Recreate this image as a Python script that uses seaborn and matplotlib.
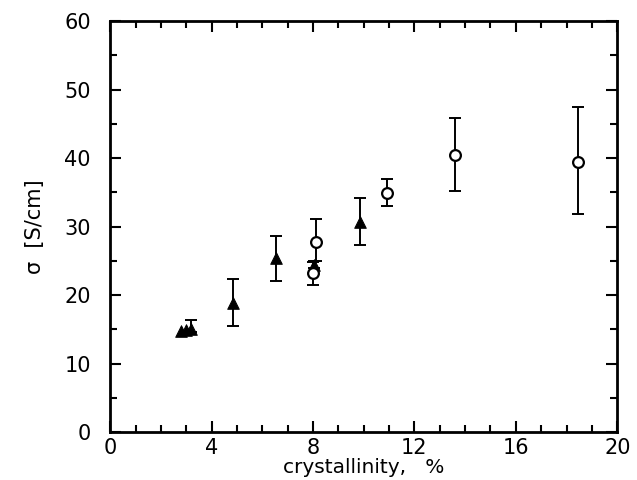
import pandas as pd
import matplotlib.pyplot as plt
import seaborn as sns
from matplotlib.ticker import MultipleLocator

# filled triangles
tri_x = [2.8, 3.0, 3.2, 4.85, 6.55, 8.05, 9.85]
tri_y = [14.7, 14.9, 15.0, 18.9, 25.4, 24.4, 30.6]
tri_lo = [14.7, 14.9, 14.6, 15.5, 22.0, 24.0, 27.3]
tri_hi = [14.7, 14.9, 16.4, 22.4, 28.6, 24.9, 34.1]

# open circles
circ_x = [8.1, 8.0, 10.9, 13.6, 18.45]
circ_y = [27.8, 23.2, 34.9, 40.4, 39.5]
circ_lo = [25.0, 21.5, 33.0, 35.2, 31.9]
circ_hi = [31.1, 24.8, 37.0, 45.9, 47.4]

df = pd.DataFrame({
    "x": tri_x + circ_x,
    "y": tri_y + circ_y,
    "lo": tri_lo + circ_lo,
    "hi": tri_hi + circ_hi,
    "kind": ["tri"] * len(tri_x) + ["circ"] * len(circ_x),
})

sns.set_style("ticks")
plt.rcParams["font.family"] = ["DejaVu Sans"]
plt.rcParams["text.color"] = "black"
plt.rcParams["axes.labelcolor"] = "black"
plt.rcParams["xtick.color"] = "black"
plt.rcParams["ytick.color"] = "black"

fig = plt.figure(figsize=(6.37, 4.8), dpi=100)
ax = fig.add_axes([0.173, 0.1, 0.796, 0.856])

# error bars only where there is a visible spread
eb = df[df["hi"] > df["lo"]]
ax.errorbar(eb["x"], eb["y"],
            yerr=[eb["y"] - eb["lo"], eb["hi"] - eb["y"]],
            fmt="none", ecolor="black", elinewidth=1.4, capsize=4, capthick=1.4, zorder=2)

sns.scatterplot(data=df[df["kind"] == "tri"], x="x", y="y", marker="^", s=70,
                color="black", edgecolor="black", ax=ax, zorder=3, legend=False)
sns.scatterplot(data=df[df["kind"] == "circ"], x="x", y="y", marker="o", s=60,
                facecolor="white", edgecolor="black", linewidth=1.6, ax=ax, zorder=3, legend=False)

ax.set_xlim(0, 20)
ax.set_ylim(0, 60)
ax.xaxis.set_major_locator(MultipleLocator(4))
ax.xaxis.set_minor_locator(MultipleLocator(1))
ax.yaxis.set_major_locator(MultipleLocator(10))
ax.yaxis.set_minor_locator(MultipleLocator(5))
ax.tick_params(which="both", direction="in", top=True, right=True, width=1.5, labelsize=15)
ax.tick_params(which="major", length=8)
ax.tick_params(which="minor", length=5)
ax.tick_params(axis="x", which="major", pad=4)
ax.tick_params(axis="y", which="major", pad=14)
for s in ax.spines.values():
    s.set_linewidth(2)
    s.set_color("black")

ax.set_xlabel("crystallinity,   %", fontsize=14.5, labelpad=0)
ax.set_ylabel("σ  [S/cm]", fontsize=15, labelpad=14)

fig.savefig("out.png", dpi=100)
plt.close()
